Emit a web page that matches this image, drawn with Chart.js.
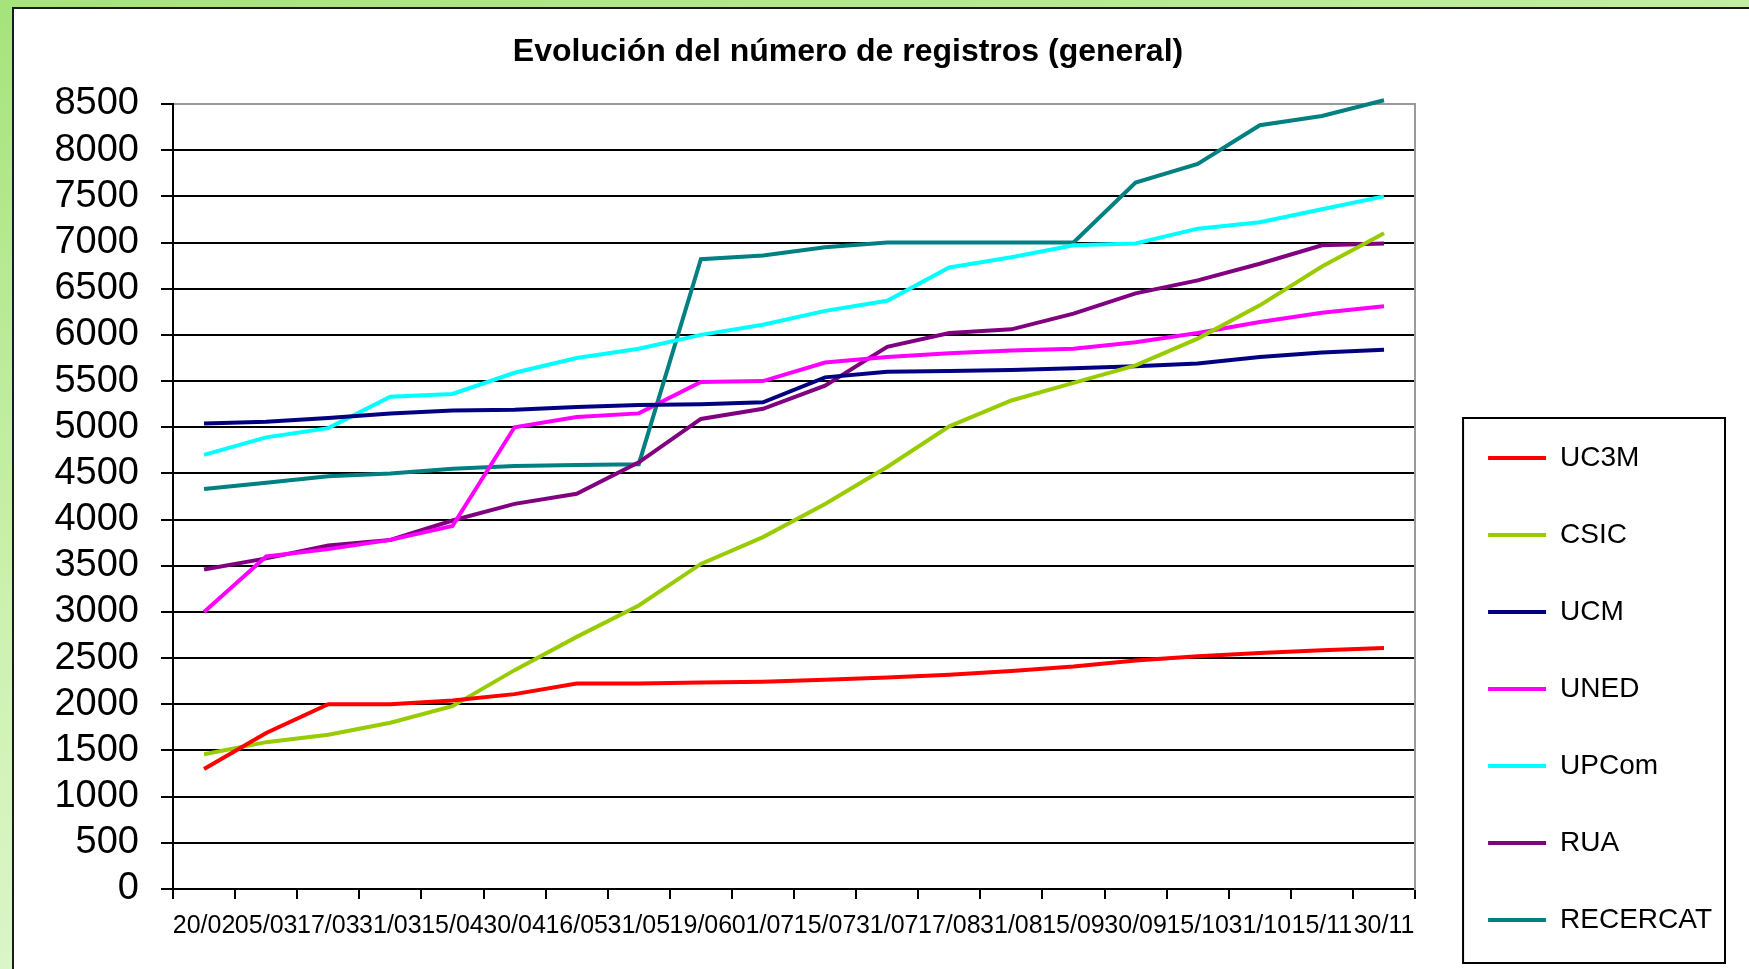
<!DOCTYPE html>
<html lang="es">
<head>
    <meta charset="UTF-8">
    <title>Evolución del número de registros (general)</title>
    <script src="https://cdn.jsdelivr.net/npm/chart.js"></script>
    <style>
        html, body { margin: 0; padding: 0; overflow: hidden; width: 1749px; height: 969px; }
        body { background: linear-gradient(165deg, #a6e37a 0%, #cdf2b2 45%, #eefae6 100%); position: relative; }
        #frame {
            position: absolute; left: 12px; top: 7px; width: 1800px; height: 1000px;
            background: #fff; border-left: 2px solid #1a1a1a; border-top: 2px solid #1a1a1a;
        }
        #wrap { position: absolute; left: 0; top: 0; width: 1749px; height: 983px; }
    </style>
</head>
<body>
    <div id="frame"></div>
    <div id="wrap"><canvas id="chart"></canvas></div>

    <script>
        // Data
        const fechas = ['20/02', '05/03', '17/03', '31/03', '15/04', '30/04', '16/05', '31/05', '19/06', '01/07',
                        '15/07', '31/07', '17/08', '31/08', '15/09', '30/09', '15/10', '31/10', '15/11', '30/11'];

        const uc3m     = [1300, 1690, 2000, 2000, 2040, 2110, 2225, 2225, 2235, 2245, 2265, 2290, 2320, 2360, 2410, 2475, 2520, 2555, 2585, 2610];
        const csic     = [1460, 1590, 1670, 1800, 1980, 2370, 2730, 3070, 3520, 3810, 4170, 4570, 5010, 5290, 5480, 5670, 5960, 6320, 6740, 7100];
        const ucm      = [5040, 5060, 5100, 5150, 5180, 5190, 5220, 5240, 5250, 5270, 5540, 5600, 5610, 5620, 5640, 5660, 5690, 5760, 5810, 5840];
        const uned     = [3000, 3600, 3680, 3780, 3930, 5000, 5110, 5150, 5490, 5500, 5700, 5760, 5800, 5830, 5850, 5920, 6020, 6140, 6240, 6310];
        const upcom    = [4700, 4890, 4990, 5330, 5360, 5590, 5750, 5850, 6000, 6110, 6260, 6370, 6730, 6840, 6970, 6990, 7150, 7220, 7360, 7500];
        const rua      = [3460, 3580, 3720, 3780, 3990, 4170, 4280, 4620, 5090, 5200, 5450, 5870, 6020, 6060, 6230, 6450, 6590, 6770, 6970, 6990];
        const recercat = [4330, 4400, 4470, 4500, 4550, 4580, 4590, 4600, 6820, 6860, 6950, 7000, 7000, 7000, 7000, 7650, 7850, 8270, 8370, 8540];

        const nombres = ['UC3M', 'CSIC', 'UCM', 'UNED', 'UPCom', 'RUA', 'RECERCAT'];
        const series  = [uc3m, csic, ucm, uned, upcom, rua, recercat];
        const colores = ['#ff0000', '#99cc00', '#000080', '#ff00ff', '#00ffff', '#800080', '#008080'];

        const titulo = 'Evolución del número de registros (general)';

        Chart.defaults.font.family = '"Liberation Sans", Arial, sans-serif';
        Chart.defaults.color = '#000';

        // Title drawn centred on the chart object, like the spreadsheet did
        const tituloPlugin = {
            id: 'tituloExcel',
            afterDraw(chart) {
                const ctx = chart.ctx;
                ctx.save();
                ctx.font = 'bold 32px "Liberation Sans", Arial, sans-serif';
                ctx.fillStyle = '#000';
                ctx.textAlign = 'center';
                ctx.textBaseline = 'alphabetic';
                ctx.fillText(titulo, 848, 61);
                ctx.restore();
            }
        };

        // Black frame round the legend items
        const marcoLeyenda = {
            id: 'marcoLeyenda',
            afterDraw(chart) {
                const lg = chart.legend;
                if (!lg || !lg.legendHitBoxes.length) return;
                const first = lg.legendHitBoxes[0];
                const last = lg.legendHitBoxes[lg.legendHitBoxes.length - 1];
                const ctx = chart.ctx;
                ctx.save();
                ctx.strokeStyle = '#000';
                ctx.lineWidth = 2;
                const x1 = first.left - 25, x2 = lg.right + 3;
                const y1 = first.top + first.height / 2 - 40;
                const y2 = last.top + last.height / 2 + 43;
                ctx.strokeRect(x1, y1, x2 - x1, y2 - y1);
                ctx.restore();
            }
        };

        function buildDatasets() {
            return nombres.map((nombre, i) => ({
                label: nombre,
                data: series[i],
                borderColor: colores[i],
                backgroundColor: colores[i],
                borderWidth: 4,
                pointRadius: 0,
                tension: 0,
                clip: false
            }));
        }

        new Chart(document.getElementById('chart'), {
            type: 'line',
            data: { labels: fechas, datasets: buildDatasets() },
            plugins: [tituloPlugin, marcoLeyenda],
            options: {
                responsive: true,
                maintainAspectRatio: false,
                animation: false,
                layout: { padding: { top: 104, left: 0, right: 27, bottom: 0 } },
                plugins: {
                    tooltip: { enabled: false },
                    title: { display: false },
                    legend: {
                        position: 'right',
                        align: 'end',
                        labels: {
                            usePointStyle: true,
                            pointStyle: 'line',
                            pointStyleWidth: 58,
                            padding: 49,
                            font: { size: 28 },
                            color: '#000'
                        }
                    }
                },
                scales: {
                    x: {
                        offset: true,
                        grid: {
                            offset: true,
                            drawOnChartArea: false,
                            tickLength: 10,
                            color: '#000',
                            lineWidth: 2
                        },
                        border: { color: '#000', width: 2 },
                        ticks: {
                            autoSkip: false,
                            maxRotation: 0,
                            minRotation: 0,
                            padding: 12,
                            font: { size: 25 }
                        },
                        afterFit: (scale) => { scale.height = 94; }
                    },
                    y: {
                        min: 0,
                        max: 8500,
                        grid: {
                            color: (c) => (c.tick && c.tick.value === 8500 ? '#9a9a9a' : '#000'),
                            tickColor: '#000',
                            lineWidth: 2,
                            tickLength: 12
                        },
                        border: { color: '#000', width: 2 },
                        ticks: {
                            stepSize: 500,
                            autoSkip: false,
                            padding: 22,
                            font: { size: 38 },
                            callback: (v) => String(v)
                        },
                        afterFit: (scale) => { scale.width = 173; }
                    },
                    // empty right axis: keeps the gap before the legend and draws the grey plot border
                    yBorde: {
                        position: 'right',
                        min: 0,
                        max: 1,
                        grid: { drawOnChartArea: false, drawTicks: false, color: 'rgba(0,0,0,0)' },
                        border: { color: '#9a9a9a', width: 2 },
                        ticks: { display: false },
                        afterFit: (scale) => { scale.width = 24; }
                    }
                }
            }
        });
    </script>
</body>
</html>
